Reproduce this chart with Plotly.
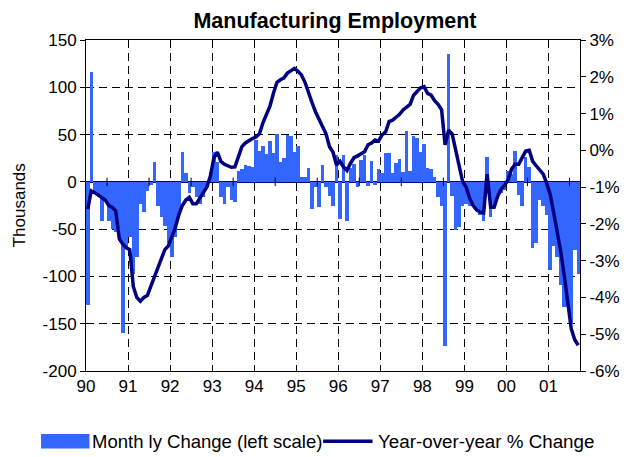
import plotly.graph_objects as go

# ---------------- data ----------------
year_labels = ["90", "91", "92", "93", "94", "95", "96", "97", "98", "99", "00", "01"]

# Monthly change in manufacturing employment, thousands (left scale)
chg_1990 = [-130, 116, -12, -14, -41, -20, -41, -50, -53, -63, -160, -69]
chg_1991 = [-58, -97, -79, -23, -32, -10, -3, 21, -26, -37, -47, -65]
chg_1992 = [-79, -58, -35, 32, 9, -12, -5, -16, -23, -16, -5, 10]
chg_1993 = [32, 21, -16, -23, -5, -19, -21, 12, 14, 18, 17, 16]
chg_1994 = [44, 33, 38, 29, 43, 30, 51, 21, 25, 50, 49, 32]
chg_1995 = [38, 5, 5, 15, -29, -5, -27, 18, -5, -15, -25, 28]
chg_1996 = [-39, 28, -41, 15, 19, -5, 23, 28, -4, 22, -3, 14]
chg_1997 = [9, 31, 30, 9, 20, 24, 10, 54, 12, 49, 46, 32]
chg_1998 = [40, 15, 14, 5, -16, -26, -174, 135, -15, -51, -48, -25]
chg_1999 = [-23, -25, -26, -30, -35, -41, 26, -37, -26, -14, -12, -9]
chg_2000 = [12, 8, 33, -14, -26, 26, 16, -70, -65, -19, -26, -35]
chg_2001 = [-93, -68, -79, -109, -132, -132, -150, -72, -97]

# Year-over-year % change (right scale)
yoy_1990 = [-1.6, -1.1, -1.15, -1.22, -1.3, -1.35, -1.5, -1.55, -1.65, -2.4, -2.55, -2.65]
yoy_1991 = [-2.7, -3.7, -4.0, -4.1, -4.0, -3.95, -3.7, -3.45, -3.2, -2.9, -2.7, -2.6]
yoy_1992 = [-2.35, -2.1, -1.75, -1.5, -1.35, -1.28, -1.45, -1.45, -1.3, -1.15, -1.0, -0.7]
yoy_1993 = [-0.2, -0.05, -0.3, -0.38, -0.42, -0.46, -0.45, -0.17, 0.1, 0.2, 0.27, 0.32]
yoy_1994 = [0.36, 0.45, 0.75, 1.0, 1.2, 1.55, 1.85, 1.92, 1.97, 2.1, 2.18, 2.23]
yoy_1995 = [2.15, 2.05, 1.85, 1.55, 1.3, 1.05, 0.85, 0.65, 0.45, 0.1, -0.05, -0.4]
yoy_1996 = [-0.3, -0.45, -0.55, -0.35, -0.2, -0.15, -0.08, -0.04, 0.15, 0.2, 0.28, 0.25]
yoy_1997 = [0.42, 0.5, 0.78, 0.82, 0.9, 0.98, 1.1, 1.18, 1.25, 1.5, 1.6, 1.7]
yoy_1998 = [1.73, 1.55, 1.5, 1.35, 1.25, 1.1, 0.15, 0.55, 0.45, 0.05, -0.4, -0.85]
yoy_1999 = [-1.0, -1.3, -1.5, -1.62, -1.68, -1.7, -0.65, -1.55, -1.55, -1.25, -1.05, -0.95]
yoy_2000 = [-0.8, -0.5, -0.38, -0.38, -0.2, -0.02, 0.0, -0.3, -0.42, -0.55, -0.65, -0.9]
yoy_2001 = [-1.2, -1.7, -2.2, -2.75, -3.4, -4.2, -4.85, -5.15, -5.3]

left_ticks = [150, 100, 50, 0, -50, -100, -150, -200]
right_ticks = [3, 2, 1, 0, -1, -2, -3, -4, -5, -6]

# ---------------- assemble ----------------
monthly_change = (chg_1990 + chg_1991 + chg_1992 + chg_1993 + chg_1994 + chg_1995 +
                  chg_1996 + chg_1997 + chg_1998 + chg_1999 + chg_2000 + chg_2001)
yoy_change = (yoy_1990 + yoy_1991 + yoy_1992 + yoy_1993 + yoy_1994 + yoy_1995 +
              yoy_1996 + yoy_1997 + yoy_1998 + yoy_1999 + yoy_2000 + yoy_2001)
n = len(monthly_change)
xpos = [i + 0.5 for i in range(n)]  # month i is centred inside its slot

BAR_COLOR = "#3366FF"
LINE_COLOR = "#000080"
FONT = "Liberation Sans, Arial, sans-serif"

fig = go.Figure()
fig.add_trace(go.Bar(x=xpos, y=monthly_change, width=1.0, marker=dict(color=BAR_COLOR, line=dict(width=0)),
                     name="Month ly Change (left scale)", showlegend=False))
fig.add_trace(go.Scatter(x=xpos, y=yoy_change, mode="lines", yaxis="y2",
                         line=dict(color=LINE_COLOR, width=3.5),
                         name="Year-over-year % Change", showlegend=False))

# small axis ticks crossing the zero line at mid-year
for k in range(6, n, 12):
    fig.add_shape(type="line", xref="x", yref="y", x0=k, x1=k, y0=-4.5, y1=4.5,
                  line=dict(color="black", width=1))

# custom legend (wide swatches like the original)
fig.add_shape(type="rect", xref="paper", yref="paper", x0=-0.091, x1=0.007, y0=-0.234, y1=-0.19,
              fillcolor=BAR_COLOR, line=dict(width=0))
fig.add_shape(type="line", xref="paper", yref="paper", x0=0.48, x1=0.58, y0=-0.212, y1=-0.212,
              line=dict(color=LINE_COLOR, width=3.5))
fig.add_annotation(xref="paper", yref="paper", x=0.009, y=-0.212, xanchor="left", yanchor="middle",
                   text="Month ly Change (left scale)", showarrow=False,
                   font=dict(family=FONT, size=18.5, color="black"))
fig.add_annotation(xref="paper", yref="paper", x=0.588, y=-0.212, xanchor="left", yanchor="middle",
                   text="Year-over-year % Change", showarrow=False,
                   font=dict(family=FONT, size=18.8, color="black"))
# y-axis title
fig.add_annotation(xref="paper", yref="paper", x=-0.134, y=0.5, xanchor="center", yanchor="middle",
                   text="Thousands", textangle=-90, showarrow=False,
                   font=dict(family=FONT, size=17, color="black"))

# the page body adds an 8px offset, so the figure is 8px smaller than the window
fig.update_layout(
    width=624, height=449,
    margin=dict(l=77.5, r=46, t=32, b=86),
    paper_bgcolor="white", plot_bgcolor="white",
    bargap=0,
    showlegend=False,
    title=dict(text="<b>Manufacturing Employment</b>", x=0.524, xanchor="center", y=0.99, yanchor="top",
               font=dict(family=FONT, size=21.5, color="black")),
    font=dict(family=FONT, size=17, color="black"),
    xaxis=dict(range=[0, n], tickmode="array",
               tickvals=[12 * k for k in range(len(year_labels))], ticktext=year_labels,
               showgrid=True, gridcolor="black", gridwidth=1, griddash="8px,5px",
               showline=True, linecolor="black", linewidth=1, mirror=True,
               ticks="", zeroline=False, tickfont=dict(size=17)),
    yaxis=dict(range=[-200, 150], tickmode="array", tickvals=left_ticks,
               ticktext=[str(v) for v in left_ticks],
               showgrid=True, gridcolor="black", gridwidth=1, griddash="8px,5px",
               zeroline=True, zerolinecolor=LINE_COLOR, zerolinewidth=2,
               showline=True, linecolor="black", linewidth=1, mirror=True,
               ticks="outside", ticklen=5, tickcolor="black", tickfont=dict(size=17)),
    yaxis2=dict(range=[-6, 3], overlaying="y", side="right", tickmode="array", tickvals=right_ticks,
                ticktext=[f"{v}%" for v in right_ticks],
                showgrid=False, zeroline=False,
                showline=True, linecolor="black", linewidth=1,
                ticks="outside", ticklen=5, tickcolor="black", tickfont=dict(size=17)),
)

fig.write_html("out.html")
